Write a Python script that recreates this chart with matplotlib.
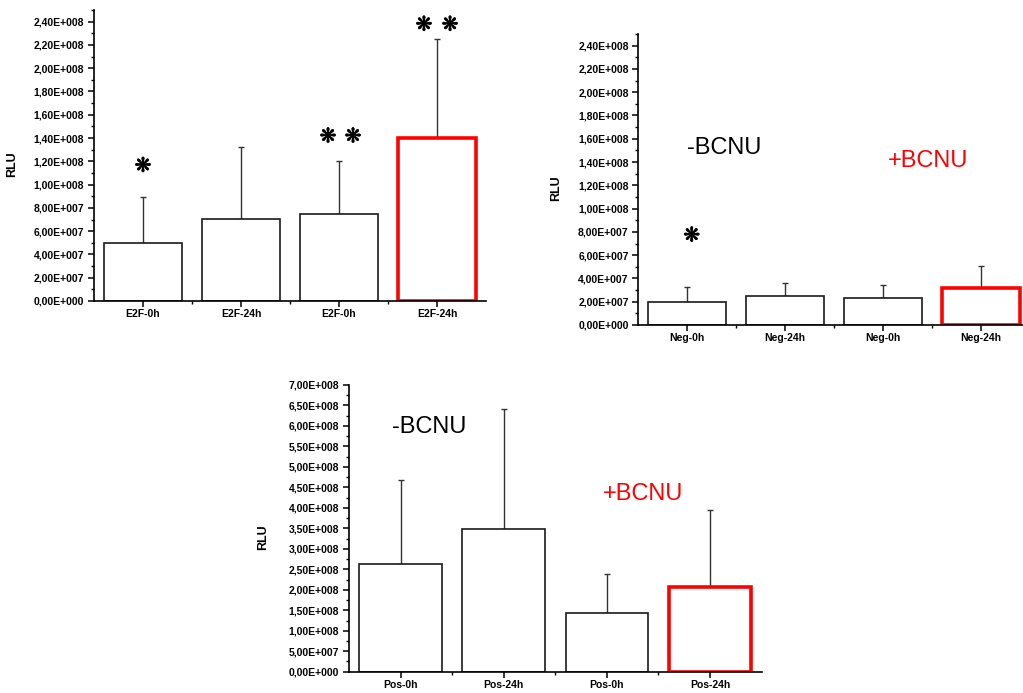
import matplotlib
matplotlib.use("Agg")
import matplotlib.pyplot as plt
import matplotlib.patheffects as pe
from matplotlib.ticker import FuncFormatter, MultipleLocator, FixedLocator
import numpy as np

# ---- data ----
e2f_labels = ["E2F-0h", "E2F-24h", "E2F-0h", "E2F-24h"]
e2f_means = [5.0e7, 7.05e7, 7.5e7, 1.40e8]
e2f_err = [3.9e7, 6.15e7, 4.55e7, 8.55e7]

neg_labels = ["Neg-0h", "Neg-24h", "Neg-0h", "Neg-24h"]
neg_means = [2.0e7, 2.5e7, 2.3e7, 3.17e7]
neg_err = [1.26e7, 1.13e7, 1.1e7, 1.86e7]

pos_labels = ["Pos-0h", "Pos-24h", "Pos-0h", "Pos-24h"]
pos_means = [2.62e8, 3.49e8, 1.43e8, 2.06e8]
pos_err = [2.06e8, 2.92e8, 0.96e8, 1.88e8]

W, H = 1023, 693
fig = plt.figure(figsize=(W / 100, H / 100), dpi=100)

FONT = "Liberation Sans"


def fmt(v, pos=None):
    if v == 0:
        return "0,00E+000"
    exp = int(np.floor(np.log10(abs(v)) + 1e-9))
    man = v / 10 ** exp
    s = f"{man:.2f}".replace(".", ",")
    return f"{s}E+{exp:03d}"


def make_panel(rect_px, labels, means, errs, ymax, major, minor):
    l, t, r, b = rect_px
    ax = fig.add_axes([l / W, (H - b) / H, (r - l) / W, (b - t) / H])
    x = np.arange(1, len(labels) + 1)
    colors = ["#1a1a1a", "#1a1a1a", "#1a1a1a", "#ff0000"]
    lws = [1.2, 1.2, 1.2, 2.6]
    ax.errorbar(x, means, yerr=[np.zeros(len(means)), errs], fmt="none",
                ecolor="#333333", elinewidth=1.0, capsize=2.5, capthick=1.0, zorder=1)
    ax.bar(x, means, width=0.8, facecolor="white", edgecolor=colors,
           linewidth=lws, zorder=2)
    ax.set_xlim(0.5, len(labels) + 0.5)
    ax.set_ylim(0, ymax)
    for s in ["top", "right"]:
        ax.spines[s].set_visible(False)
    for s in ["left", "bottom"]:
        ax.spines[s].set_linewidth(1.2)
    ax.set_xticks(x)
    ax.set_xticklabels(labels)
    ax.xaxis.set_minor_locator(FixedLocator(np.arange(1.5, len(labels), 1.0)))
    ax.yaxis.set_major_locator(MultipleLocator(major))
    ax.yaxis.set_minor_locator(MultipleLocator(minor))
    ax.yaxis.set_major_formatter(FuncFormatter(fmt))
    ax.tick_params(axis="both", which="major", direction="out", length=4, width=1.1,
                   labelsize=7.5, pad=2)
    ax.tick_params(axis="y", which="major", pad=3)
    ax.tick_params(axis="both", which="minor", direction="out", length=2.2, width=1.0)
    for lab in ax.get_xticklabels() + ax.get_yticklabels():
        lab.set_fontfamily(FONT)
        lab.set_fontweight("bold")
    ax.set_ylabel("RLU", fontsize=9, fontweight="bold", fontfamily=FONT)
    ax.yaxis.set_label_coords(-0.194, 0.47)
    ax.patch.set_alpha(0)
    return ax


STAR = "\u274b"
STAR_FX = [pe.withStroke(linewidth=0.4, foreground="black")]


def star(ax, xs, ys):
    ax.text(xs, ys, STAR, fontsize=14.5, ha="center", va="center",
            family="DejaVu Sans", fontweight="bold", path_effects=STAR_FX)


ax1 = make_panel((94, 10, 486, 301), e2f_labels, e2f_means, e2f_err, 2.5e8, 2e7, 1e7)
for xs, ys in [(1.0, 1.157e8), (2.888, 1.41e8), (3.143, 1.41e8), (3.867, 2.37e8), (4.133, 2.37e8)]:
    star(ax1, xs, ys)

ax2 = make_panel((638.4, 34, 1029.6, 325), neg_labels, neg_means, neg_err, 2.5e8, 2e7, 1e7)
star(ax2, 1.045, 0.765e8)
ax2.text(0.994, 1.52e8, "-BCNU", fontsize=17, ha="left", va="center", family=FONT, color="black")
ax2.text(3.055, 1.405e8, "+BCNU", fontsize=17, ha="left", va="center", family=FONT, color="#ff0000")

ax3 = make_panel((349, 385, 761.5, 671.7), pos_labels, pos_means, pos_err, 7.0e8, 5e7, 2.5e7)
ax3.text(0.92, 5.98e8, "-BCNU", fontsize=17, ha="left", va="center", family=FONT, color="black")
ax3.text(2.957, 4.33e8, "+BCNU", fontsize=17, ha="left", va="center", family=FONT, color="#ff0000")

fig.savefig("out.png", dpi=100, facecolor="white")
